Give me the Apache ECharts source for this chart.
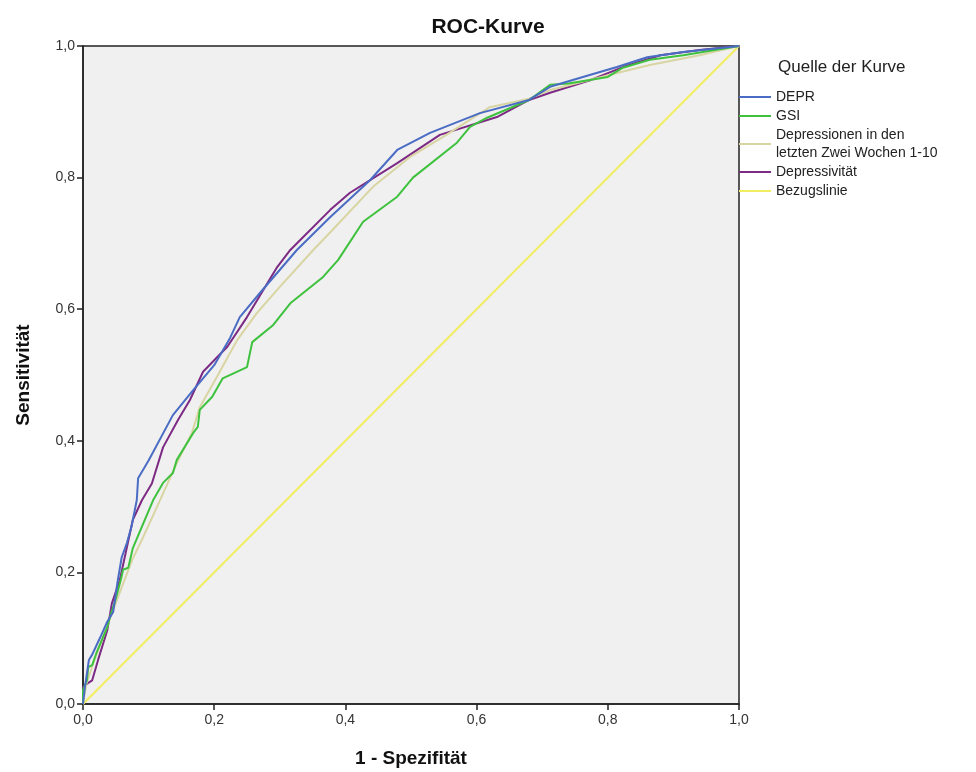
<!DOCTYPE html>
<html>
<head>
<meta charset="utf-8">
<script src="https://cdn.jsdelivr.net/npm/echarts@6/dist/echarts.min.js"></script>
<style>
  html, body { margin: 0; padding: 0; background: #fff; }
  #chart { width: 976px; height: 772px; }
</style>
</head>
<body>
<div id="chart"></div>
<script>
// ROC points [1 - Spezifität, Sensitivität]
const deprPoints = [
  [0, 0], [0.003, 0.026], [0.009, 0.067], [0.014, 0.075], [0.021, 0.09], [0.028, 0.105],
  [0.037, 0.125], [0.046, 0.14], [0.053, 0.188], [0.059, 0.223], [0.067, 0.245], [0.074, 0.27],
  [0.082, 0.31], [0.084, 0.343], [0.1, 0.37], [0.137, 0.439], [0.168, 0.477], [0.2, 0.515],
  [0.224, 0.556], [0.239, 0.588], [0.27, 0.625], [0.326, 0.69], [0.377, 0.74], [0.4375, 0.796],
  [0.479, 0.842], [0.529, 0.868], [0.605, 0.898], [0.68, 0.918], [0.712, 0.938], [0.762, 0.953],
  [0.814, 0.968], [0.86, 0.983], [0.915, 0.991], [1, 1]
]
const gsiPoints = [
  [0, 0], [0, 0.021], [0.006, 0.036], [0.008, 0.056], [0.014, 0.059], [0.021, 0.079],
  [0.037, 0.117], [0.041, 0.132], [0.05, 0.16], [0.058, 0.19], [0.061, 0.204], [0.069, 0.207],
  [0.076, 0.237], [0.09, 0.27], [0.107, 0.31], [0.122, 0.336], [0.137, 0.351], [0.143, 0.371],
  [0.168, 0.412], [0.175, 0.421], [0.178, 0.447], [0.197, 0.467], [0.213, 0.495], [0.25, 0.512],
  [0.258, 0.55], [0.29, 0.576], [0.316, 0.609], [0.366, 0.649], [0.389, 0.675], [0.427, 0.733],
  [0.479, 0.771], [0.503, 0.8], [0.57, 0.853], [0.59, 0.877], [0.616, 0.891], [0.68, 0.918],
  [0.712, 0.941], [0.74, 0.943], [0.8, 0.953], [0.823, 0.967], [0.864, 0.979], [0.915, 0.986], [1, 1]
]
const depr2WPoints = [
  [0, 0], [0.005, 0.03], [0.015, 0.06], [0.03, 0.1], [0.045, 0.14], [0.06, 0.18], [0.075, 0.219],
  [0.09, 0.25], [0.113, 0.3], [0.143, 0.366], [0.166, 0.412], [0.178, 0.451], [0.204, 0.497],
  [0.235, 0.553], [0.265, 0.594], [0.3, 0.634], [0.351, 0.69], [0.377, 0.717], [0.442, 0.786],
  [0.498, 0.831], [0.549, 0.862], [0.62, 0.907], [0.68, 0.92], [0.712, 0.933], [0.814, 0.959],
  [0.864, 0.971], [0.94, 0.986], [1, 1]
]
const depressivPoints = [
  [0, 0], [0, 0.026], [0.008, 0.032], [0.014, 0.036], [0.023, 0.067], [0.037, 0.112],
  [0.044, 0.153], [0.056, 0.188], [0.076, 0.28], [0.09, 0.31], [0.105, 0.335], [0.122, 0.39],
  [0.145, 0.432], [0.163, 0.462], [0.183, 0.505], [0.22, 0.543], [0.25, 0.588], [0.296, 0.664],
  [0.316, 0.69], [0.377, 0.751], [0.407, 0.777], [0.479, 0.822], [0.544, 0.865], [0.631, 0.892],
  [0.68, 0.918], [0.712, 0.929], [0.773, 0.948], [0.823, 0.968], [0.88, 0.986], [0.94, 0.994], [1, 1]
]
const refPoints = [[0, 0], [1, 1]]

const seriesNames = ['DEPR', 'GSI', 'Depressionen in den\nletzten Zwei Wochen 1-10', 'Depressivität', 'Bezugslinie']
const seriesColors = ['#4a6cc4', '#3ec23e', '#d9d5a3', '#7d2a84', '#f2ee62']
const seriesData = [deprPoints, gsiPoints, depr2WPoints, depressivPoints, refPoints]

const font = "'Liberation Sans Narrow', 'Liberation Sans', Arial, sans-serif"
const comma = v => v.toFixed(1).replace('.', ',')

const chart = echarts.init(document.getElementById('chart'))
chart.setOption({
  animation: false,
  backgroundColor: '#fff',
  textStyle: { fontFamily: font },
  title: [{
    text: 'ROC-Kurve',
    left: 'center',
    top: 12,
    textStyle: { fontFamily: font, fontSize: 21, fontWeight: 'bold', color: '#111' }
  }, {
    text: 'Quelle der Kurve',
    left: 773,
    top: 54,
    textStyle: { fontFamily: 'Liberation Sans, Arial, sans-serif', fontSize: 17, fontWeight: 'normal', color: '#222' }
  }],
  legend: {
    orient: 'vertical',
    left: 739,
    top: 88,
    padding: 0,
    itemGap: 1,
    itemWidth: 32,
    itemHeight: 2,
    icon: 'rect',
    textStyle: { fontFamily: 'Liberation Sans, Arial, sans-serif', fontSize: 14, lineHeight: 18, color: '#222' },
    data: seriesNames
  },
  grid: {
    left: 83,
    top: 46,
    width: 656,
    height: 658,
    outerBoundsMode: 'none',
    containLabel: false,
    show: true,
    backgroundColor: '#f0f0f0',
    borderColor: '#222',
    borderWidth: 1.5
  },
  xAxis: {
    type: 'value',
    min: 0,
    max: 1,
    interval: 0.2,
    name: '1 - Spezifität',
    nameLocation: 'middle',
    nameGap: 45,
    nameTextStyle: { fontFamily: font, fontSize: 19, fontWeight: 'bold', color: '#111' },
    axisLine: { lineStyle: { color: '#222', width: 1.5 } },
    axisTick: { inside: false, length: 6, lineStyle: { color: '#222', width: 1.5 } },
    axisLabel: { formatter: comma, fontSize: 14, color: '#333', margin: 9 },
    splitLine: { show: false }
  },
  yAxis: {
    type: 'value',
    min: 0,
    max: 1,
    interval: 0.2,
    name: 'Sensitivität',
    nameLocation: 'middle',
    nameGap: 50,
    nameTextStyle: { fontFamily: font, fontSize: 19, fontWeight: 'bold', color: '#111' },
    axisLine: { lineStyle: { color: '#222', width: 1.5 } },
    axisTick: { inside: false, length: 6, lineStyle: { color: '#222', width: 1.5 } },
    axisLabel: { formatter: comma, fontSize: 14, color: '#333', margin: 8 },
    splitLine: { show: false }
  },
  series: seriesNames.map((name, i) => ({
    name: name,
    type: 'line',
    data: seriesData[i],
    symbol: 'none',
    showSymbol: false,
    z: i === 4 ? 1 : 5 - i,
    itemStyle: { color: seriesColors[i] },
    lineStyle: { color: seriesColors[i], width: 2 }
  }))
})
</script>
</body>
</html>
